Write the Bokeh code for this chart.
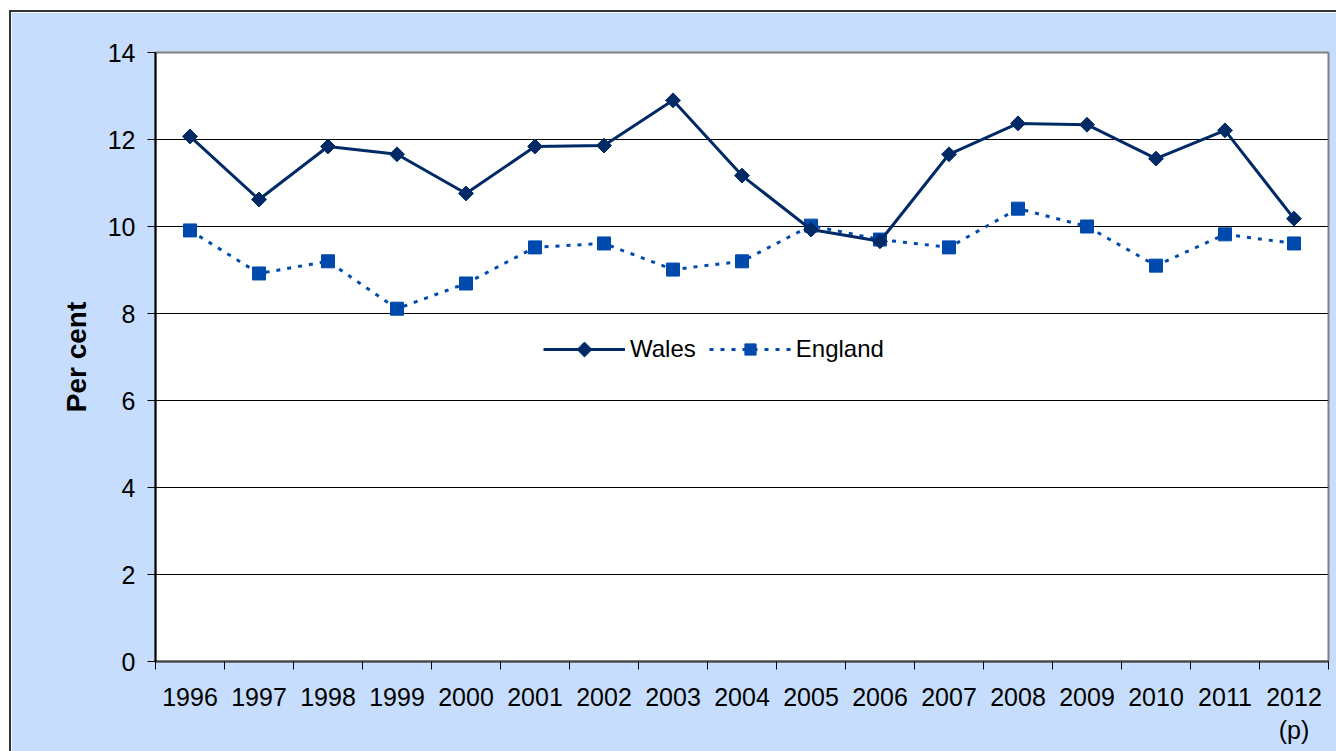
import numpy as np
from bokeh.plotting import figure
from bokeh.models import FixedTicker, Legend, LegendItem, Range1d
from bokeh.embed import file_html
from bokeh.resources import INLINE

years = ["1996", "1997", "1998", "1999", "2000", "2001", "2002", "2003", "2004",
         "2005", "2006", "2007", "2008", "2009", "2010", "2011", "2012\n(p)"]
wales = [12.07, 10.62, 11.84, 11.66, 10.76, 11.84, 11.86, 12.90, 11.17,
         9.93, 9.66, 11.66, 12.37, 12.34, 11.56, 12.21, 10.18]
england = [9.91, 8.92, 9.20, 8.11, 8.69, 9.52, 9.61, 9.01, 9.20,
           10.02, 9.70, 9.52, 10.41, 10.00, 9.10, 9.82, 9.61]
y_ticks = [0, 2, 4, 6, 8, 10, 12, 14]

FONT = "Liberation Sans"
BG = "#C6DDFD"
WALES_C = "#002A66"
ENG_C = "#0049AD"

FW, FH = 1173, 609          # plot frame size in pixels
LEG_X, LEG_Y = 388, 298     # legend position inside the frame (px)
GLYPH_W, GLYPH_H = 82, 28

xs = [i + 0.5 for i in range(len(years))]

p = figure(frame_width=FW, frame_height=FH, output_backend="svg", toolbar_location=None,
           x_range=Range1d(0, len(years)), y_range=Range1d(0, 14),
           min_border_left=144, min_border_right=8, min_border_top=40, min_border_bottom=90)
p.extra_x_ranges = {"px": Range1d(0, FW)}
p.extra_y_ranges = {"px": Range1d(0, FH)}
p.background_fill_color = "white"
p.border_fill_color = BG
p.outline_line_color = "#808080"
p.outline_line_width = 2
p.styles = {"margin-left": "9px", "margin-top": "10px",
            "border-left": "2px solid #333333", "border-top": "2px solid #333333",
            "box-sizing": "border-box"}

# x axis: labels at category centres, tick marks at category boundaries
xt = FixedTicker(ticks=xs, minor_ticks=list(range(len(years) + 1)))
p.xaxis.ticker = xt
p.xaxis.major_label_overrides = {x: y for x, y in zip(xs, years)}
p.xaxis.major_tick_in = 0
p.xaxis.major_tick_out = 0
p.xaxis.minor_tick_in = 0
p.xaxis.minor_tick_out = 8
p.xaxis.minor_tick_line_color = "black"
p.xaxis.axis_line_color = "#404040"
p.xaxis.axis_line_width = 2
p.xaxis.major_label_text_font = FONT
p.xaxis.major_label_text_font_size = "25px"
p.xaxis.major_label_text_color = "black"
p.xaxis.major_label_standoff = 13
p.xgrid.visible = False

p.yaxis.ticker = FixedTicker(ticks=y_ticks, minor_ticks=[])
p.yaxis.major_tick_in = 0
p.yaxis.major_tick_out = 8
p.yaxis.major_tick_line_color = "black"
p.yaxis.axis_line_color = "black"
p.yaxis.axis_line_width = 2
p.yaxis.major_label_text_font = FONT
p.yaxis.major_label_text_font_size = "25px"
p.yaxis.major_label_text_color = "black"
p.yaxis.major_label_standoff = 12
p.yaxis.axis_label = "Per cent"
p.yaxis.axis_label_text_font = FONT
p.yaxis.axis_label_text_font_size = "28px"
p.yaxis.axis_label_text_font_style = "bold"
p.yaxis.axis_label_text_color = "black"
p.yaxis.axis_label_standoff = 13
p.ygrid.ticker = FixedTicker(ticks=y_ticks)
p.ygrid.grid_line_color = "black"
p.ygrid.grid_line_width = 1

el = p.line(xs, england, line_color=ENG_C, line_width=3, line_dash="4 7")
es = p.scatter(xs, england, marker="square", size=13, fill_color=ENG_C, line_color=ENG_C)
wl = p.line(xs, wales, line_color=WALES_C, line_width=3)
ws = p.scatter(xs, wales, marker="square", angle=np.pi / 4, size=10.5,
               fill_color=WALES_C, line_color=WALES_C)

legend = Legend(items=[LegendItem(label="Wales", renderers=[wl]),
                       LegendItem(label="England", renderers=[el, es])],
                orientation="horizontal", location=(LEG_X, LEG_Y),
                glyph_width=GLYPH_W, glyph_height=GLYPH_H, label_standoff=5, spacing=13,
                padding=0, margin=0, border_line_color=None,
                background_fill_alpha=0,
                label_text_font=FONT, label_text_font_size="24px", label_text_color="black")
p.add_layout(legend, "center")

# legend icon for Wales: rotated square (diamond) centred on its legend line
p.scatter([LEG_X + GLYPH_W / 2], [LEG_Y + GLYPH_H / 2], x_range_name="px", y_range_name="px",
          marker="square", angle=np.pi / 4, size=10.5, fill_color=WALES_C, line_color=WALES_C)

open("out.html", "w").write(file_html(p, INLINE))
